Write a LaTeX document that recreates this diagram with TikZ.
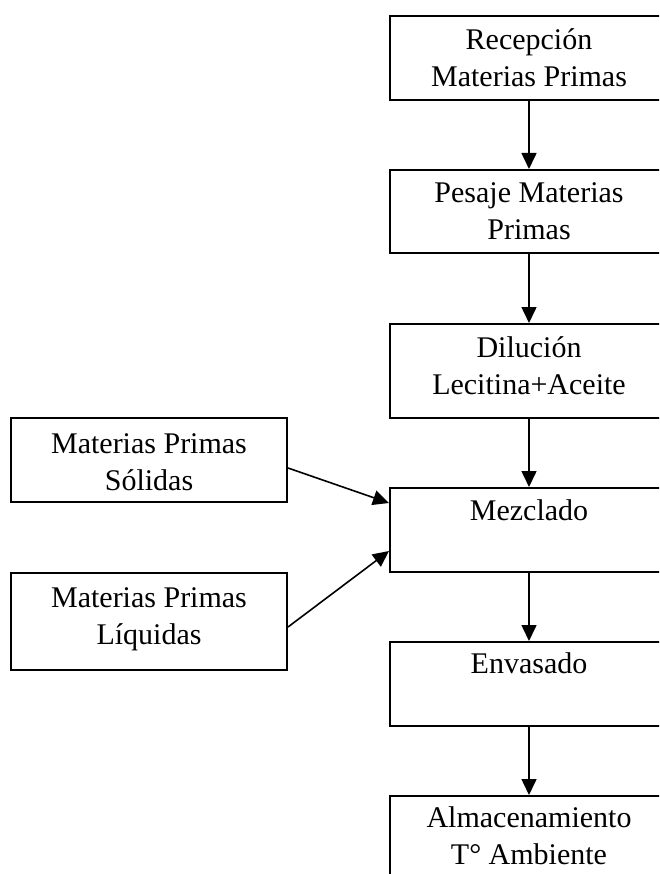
\documentclass[tikz,border=0pt]{standalone}
\usepackage{fontspec}
\setmainfont{Liberation Serif}
\usetikzlibrary{arrows.meta}
\begin{document}
\begin{tikzpicture}[x=1pt,y=1pt,
  procbox/.style={draw, line width=2pt, rectangle, anchor=north west, inner sep=0pt, minimum width=278pt},
  sidebox/.style={draw, line width=2pt, rectangle, anchor=north west, inner sep=0pt, minimum width=276pt},
  txt/.style={anchor=base, align=center, inner sep=0pt, font=\fontsize{30}{37}\selectfont},
  flow/.style={line width=1.6pt, -{Triangle[width=15pt,length=16pt]}}]
\useasboundingbox (0,0) rectangle (659,-874);
\clip (0,0) rectangle (659,-874);
\node[procbox, minimum height=84pt] (b1) at (389,-15) {};
\node[procbox, minimum height=83pt] (b2) at (389,-169) {};
\node[procbox, minimum height=94pt] (b3) at (389,-323) {};
\node[procbox, minimum height=84pt] (b4) at (389,-487) {};
\node[procbox, minimum height=84pt] (b5) at (389,-641) {};
\node[procbox, minimum height=84pt] (b6) at (389,-795) {};
\node[sidebox, minimum height=84pt] (s) at (10,-417) {};
\node[sidebox, minimum height=97pt] (l) at (10,-572) {};
\node[txt] (t1) at ([yshift=-72pt]b1.north) {Recepción\\Materias Primas};
\node[txt] (t2) at ([yshift=-71pt]b2.north) {Pesaje Materias\\Primas};
\node[txt] (t3) at ([yshift=-71pt]b3.north) {Dilución\\Lecitina+Aceite};
\node[txt] (t4) at ([yshift=-33pt]b4.north) {Mezclado};
\node[txt] (t5) at ([yshift=-32pt]b5.north) {Envasado};
\node[txt] (t6) at ([yshift=-69pt]b6.north) {Almacenamiento\\T° Ambiente};
\node[txt] (ts) at ([yshift=-73pt]s.north) {Materias Primas\\Sólidas};
\node[txt] (tl) at ([yshift=-72pt]l.north) {Materias Primas\\Líquidas};
\draw[flow] (b1.south) -- (b2.north);
\draw[flow] (b2.south) -- (b3.north);
\draw[flow] (b3.south) -- (b4.north);
\draw[flow] (b4.south) -- (b5.north);
\draw[flow] (b5.south) -- (b6.north);
\draw[flow] ([yshift=-8pt]s.east) -- ([yshift=27pt]b4.west);
\draw[flow] ([yshift=-5.5pt]l.east) -- ([yshift=-21pt]b4.west);
\end{tikzpicture}
\end{document}
